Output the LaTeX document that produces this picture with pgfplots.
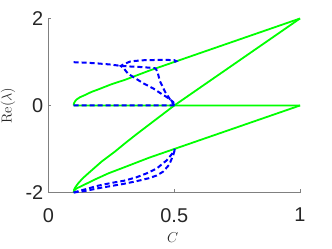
\documentclass[border=0pt]{standalone}
\usepackage{pgfplots}
\pgfplotsset{compat=1.18}
\usepackage{fontspec}
\newfontfamily\arial{Liberation Sans}
\definecolor{mgreen}{rgb}{0,1,0}
\definecolor{mblue}{rgb}{0,0,1}
\definecolor{axgray}{gray}{0.5}
\definecolor{txtgray}{gray}{0.15}
\begin{document}
\begin{tikzpicture}
\path[use as bounding box] (-48.5bp,-56.5bp) rectangle (283.5bp,192.5bp);
\begin{axis}[
  at={(0,0)}, anchor=south west,
  scale only axis, width=251.5bp, height=174bp,
  xmin=0, xmax=1, ymin=-2, ymax=2,
  axis x line=bottom, axis y line=left,
  axis line style={-, axgray, line width=0.5bp},
  xtick={0,0.5,1}, xticklabels={0,0.5,1},
  ytick={-2,0,2}, yticklabels={-2,0,2},
  tick align=inside, major tick length=3bp,
  tick style={axgray, line width=0.5bp},
  xticklabel style={font=\arial\fontsize{20}{24}\selectfont, text=txtgray, anchor=north, inner sep=0pt, yshift=-15.5bp},
  yticklabel style={font=\arial\fontsize{20}{24}\selectfont, text=txtgray, anchor=east, inner sep=0pt, xshift=-5bp},
  xlabel={$C$},
  ylabel={Re($\lambda$)},
  xlabel style={at={(axis description cs:0.494,-0.258)}, anchor=center, font=\fontsize{14.5}{17}\selectfont, text=txtgray, inner sep=0pt},
  ylabel style={at={(axis description cs:-0.161,0.5)}, anchor=center, font=\fontsize{14.5}{17}\selectfont, text=txtgray, inner sep=0pt},
  clip=false,
]
% green solid
\addplot[mgreen, line width=1.8bp] coordinates {(0.100,0) (0.1003,0.03) (0.102,0.06) (0.106,0.10) (0.112,0.14) (0.125,0.19) (0.145,0.24) (0.170,0.31) (0.198,0.37) (0.251,0.49) (0.304,0.59) (0.4,0.80) (0.5,1.0) (1,2)};
\addplot[mgreen, line width=1.8bp] coordinates {(0.1,-2) (0.102,-1.93) (0.108,-1.87) (0.118,-1.79) (0.135,-1.68) (0.158,-1.56) (0.211,-1.29) (0.264,-1.06) (0.304,-0.87) (0.35,-0.66) (0.4,-0.44) (0.45,-0.22) (0.5,0) (1,2)};
\addplot[mgreen, line width=1.8bp] coordinates {(0.1,-2) (0.103,-1.95) (0.11,-1.91) (0.132,-1.85) (0.185,-1.70) (0.238,-1.56) (0.297,-1.43) (0.4,-1.2) (0.5,-1.0) (1,0)};
\addplot[mgreen, line width=1.8bp] coordinates {(0.1,0) (0.3,0.0004) (0.55,0) (0.8,0.0004) (1,0)};
% blue dashed
\addplot[mblue, line width=2bp, dash pattern=on 5bp off 3bp] coordinates {(0.1,0) (0.3,0.0004) (0.5,0)};
\addplot[mblue, line width=2bp, dash pattern=on 5bp off 3bp] coordinates {(0.1,0.995) (0.15,0.985) (0.2,0.965) (0.25,0.94) (0.287,0.91) (0.33,0.895) (0.365,0.885) (0.40,0.87) (0.425,0.855) (0.433,0.78) (0.443,0.56) (0.463,0.32) (0.49,0.08) (0.5,0)};
\addplot[mblue, line width=2bp, dash pattern=on 5bp off 3bp] coordinates {(0.5,1.0) (0.508,1.02) (0.50,1.042) (0.47,1.048) (0.443,1.048) (0.41,1.045) (0.377,1.04) (0.345,1.025) (0.324,1.01) (0.304,0.96) (0.287,0.91) (0.3,0.85) (0.316,0.73) (0.336,0.66) (0.377,0.51) (0.417,0.39) (0.443,0.29) (0.47,0.195) (0.496,0.08) (0.5,0)};
\addplot[mblue, line width=2bp, dash pattern=on 5bp off 3bp] coordinates {(0.1,-2) (0.15,-1.92) (0.2,-1.84) (0.25,-1.78) (0.3,-1.73) (0.35,-1.65) (0.39,-1.56) (0.43,-1.45) (0.47,-1.26) (0.49,-1.12) (0.503,-1.0)};
\addplot[mblue, line width=2bp, dash pattern=on 5bp off 3bp] coordinates {(0.1,-2) (0.15,-1.96) (0.2,-1.90) (0.25,-1.85) (0.3,-1.80) (0.35,-1.74) (0.4,-1.67) (0.43,-1.61) (0.456,-1.52) (0.48,-1.36) (0.496,-1.14) (0.503,-1.0)};
\end{axis}
\end{tikzpicture}
\end{document}
